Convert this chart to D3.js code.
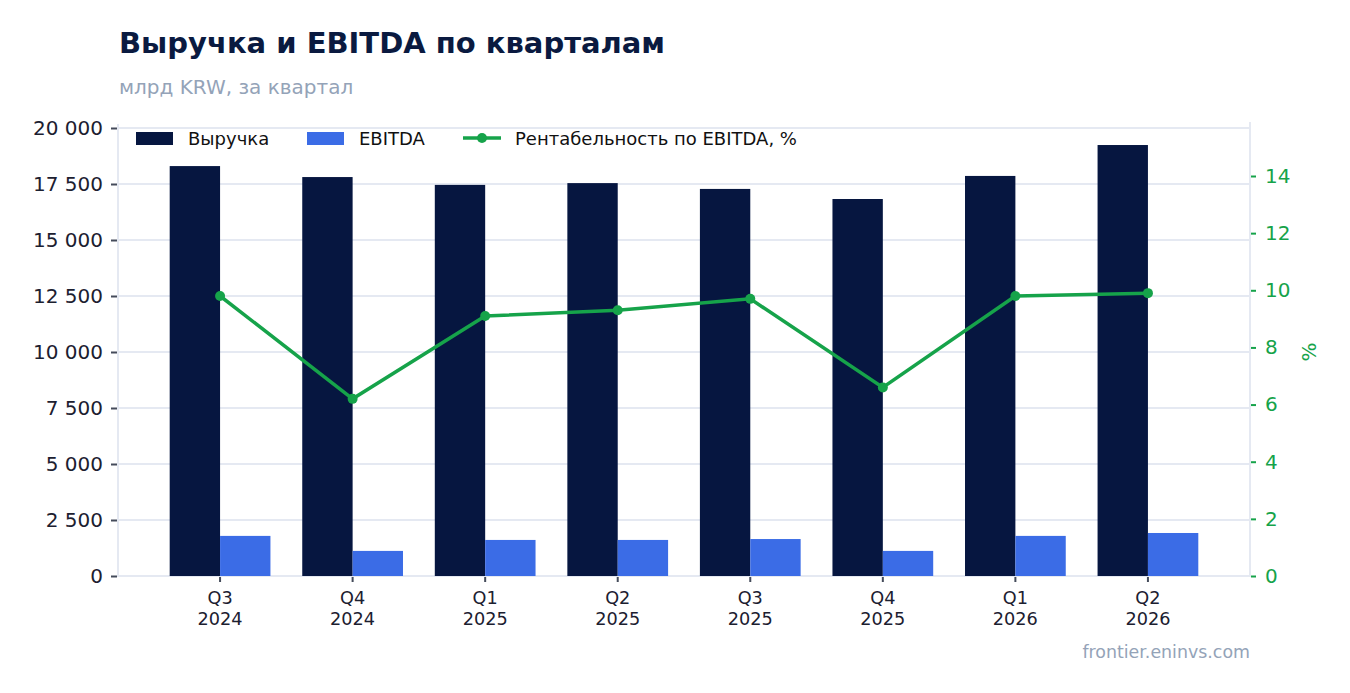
<!DOCTYPE html>
<html>
<head>
<meta charset="utf-8">
<script src="https://cdn.jsdelivr.net/npm/d3@7"></script>
<style>
  body { margin: 0; background: #fff; }
  svg { font-family: "DejaVu Sans", sans-serif; }
</style>
</head>
<body>
<svg id="chart" width="1350" height="693"></svg>
<script>
const quarters = ["Q3", "Q4", "Q1", "Q2", "Q3", "Q4", "Q1", "Q2"];
const years = ["2024", "2024", "2025", "2025", "2025", "2025", "2026", "2026"];
const revenue = [18300, 17810, 17460, 17540, 17280, 16830, 17860, 19240];
const ebitda = [1790, 1120, 1610, 1610, 1650, 1120, 1790, 1920];
const margin = [9.8, 6.2, 9.1, 9.3, 9.7, 6.6, 9.8, 9.9];
const leftTicks = [0, 2500, 5000, 7500, 10000, 12500, 15000, 17500, 20000];
const rightTicks = [0, 2, 4, 6, 8, 10, 12, 14];

const NAVY = "#061640", BLUE = "#3b6ce6", GREEN = "#16a34a", GRID = "#e5e9f2";

const svg = d3.select("#chart");
const plot = { left: 118, right: 1250, top: 128, bottom: 576 };

const locale = d3.formatLocale({ decimal: ",", thousands: "\u00a0", grouping: [3], currency: ["", ""] });
const fmt = locale.format(",d");

const cats = quarters.map((q, i) => i);
const x = d3.scaleBand()
    .domain(cats)
    .range([plot.left, plot.right])
    .paddingInner(0.24)
    .paddingOuter(0.39);

const sub = d3.scaleBand()
    .domain(["rev", "ebitda"])
    .range([0, x.bandwidth()]);

const y = d3.scaleLinear().domain([0, 20000]).range([plot.bottom, plot.top]);
const y2 = d3.scaleLinear().domain([0, 15.68]).range([plot.bottom, plot.top]);

// title
svg.append("text")
    .attr("x", 119).attr("y", 53)
    .attr("font-size", 29).attr("font-weight", "bold")
    .attr("fill", "#0a1a40")
    .text("Выручка и EBITDA по кварталам");

svg.append("text")
    .attr("x", 119).attr("y", 94)
    .attr("font-size", 20)
    .attr("fill", "#94a3b8")
    .text("млрд KRW, за квартал");

// grid
svg.append("g").selectAll("line")
    .data(leftTicks)
    .join("line")
    .attr("x1", plot.left).attr("x2", plot.right)
    .attr("y1", d => y(d)).attr("y2", d => y(d))
    .attr("stroke", GRID).attr("stroke-width", 2);

// axis lines
svg.append("line")
    .attr("x1", plot.left).attr("x2", plot.left)
    .attr("y1", plot.top - 4).attr("y2", plot.bottom + 1)
    .attr("stroke", GRID).attr("stroke-width", 2);
svg.append("line")
    .attr("x1", plot.right).attr("x2", plot.right)
    .attr("y1", plot.top - 6).attr("y2", plot.bottom + 1)
    .attr("stroke", GRID).attr("stroke-width", 2);

// left axis
const leftAxis = svg.append("g")
    .attr("transform", `translate(${plot.left - 1},0)`)
    .call(d3.axisLeft(y).tickValues(leftTicks).tickFormat(fmt).tickSize(6).tickPadding(8));
leftAxis.select(".domain").remove();
leftAxis.selectAll("line").attr("stroke", "#444b5a").attr("stroke-width", 2);
leftAxis.selectAll("text").attr("font-size", 20).attr("fill", "#1c2030").attr("font-family", "DejaVu Sans");

// right axis
const rightAxis = svg.append("g")
    .attr("transform", `translate(${plot.right + 1},0)`)
    .call(d3.axisRight(y2).tickValues(rightTicks).tickSize(5).tickPadding(9));
rightAxis.select(".domain").remove();
rightAxis.selectAll("line").attr("stroke", GREEN).attr("stroke-width", 2);
rightAxis.selectAll("text").attr("font-size", 20).attr("fill", GREEN).attr("font-family", "DejaVu Sans");

svg.append("text")
    .attr("transform", `translate(1316,${(plot.top + plot.bottom) / 2}) rotate(-90)`)
    .attr("text-anchor", "middle")
    .attr("font-size", 20).attr("fill", GREEN)
    .text("%");

// bars
svg.append("g").selectAll("rect")
    .data(revenue)
    .join("rect")
    .attr("x", (d, i) => x(i) + sub("rev"))
    .attr("y", d => y(d))
    .attr("width", sub.bandwidth())
    .attr("height", d => y(0) - y(d))
    .attr("fill", NAVY);

svg.append("g").selectAll("rect")
    .data(ebitda)
    .join("rect")
    .attr("x", (d, i) => x(i) + sub("ebitda"))
    .attr("y", d => y(d))
    .attr("width", sub.bandwidth())
    .attr("height", d => y(0) - y(d))
    .attr("fill", BLUE);

// x axis ticks and labels
const xg = svg.append("g");
cats.forEach(i => {
    const cx = x(i) + x.bandwidth() / 2;
    xg.append("line")
        .attr("x1", cx).attr("x2", cx)
        .attr("y1", plot.bottom + 1).attr("y2", plot.bottom + 6)
        .attr("stroke", "#444b5a").attr("stroke-width", 2);
    xg.append("text")
        .attr("x", cx).attr("y", 604)
        .attr("text-anchor", "middle")
        .attr("font-size", 17.7).attr("fill", "#1c2030")
        .text(quarters[i]);
    xg.append("text")
        .attr("x", cx).attr("y", 625)
        .attr("text-anchor", "middle")
        .attr("font-size", 17.7).attr("fill", "#1c2030")
        .text(years[i]);
});

// margin line
const line = d3.line()
    .x((d, i) => x(i) + x.bandwidth() / 2)
    .y(d => y2(d));

svg.append("path")
    .datum(margin)
    .attr("d", line)
    .attr("fill", "none")
    .attr("stroke", GREEN)
    .attr("stroke-width", 3.5);

svg.append("g").selectAll("circle")
    .data(margin)
    .join("circle")
    .attr("cx", (d, i) => x(i) + x.bandwidth() / 2)
    .attr("cy", d => y2(d))
    .attr("r", 5)
    .attr("fill", GREEN);

// legend
const lg = svg.append("g").attr("font-size", 18).attr("fill", "#111");
lg.append("rect").attr("x", 136).attr("y", 132).attr("width", 37).attr("height", 13).attr("fill", NAVY);
lg.append("text").attr("x", 188).attr("y", 145).text("Выручка");
lg.append("rect").attr("x", 307).attr("y", 132).attr("width", 37).attr("height", 13).attr("fill", BLUE);
lg.append("text").attr("x", 359).attr("y", 145).text("EBITDA");
lg.append("line").attr("x1", 463).attr("x2", 501).attr("y1", 138).attr("y2", 138)
    .attr("stroke", GREEN).attr("stroke-width", 3.5);
lg.append("circle").attr("cx", 482).attr("cy", 138).attr("r", 5).attr("fill", GREEN);
lg.append("text").attr("x", 515).attr("y", 145).text("Рентабельность по EBITDA, %");

// source
svg.append("text")
    .attr("x", 1250).attr("y", 658)
    .attr("text-anchor", "end")
    .attr("font-size", 17.4).attr("fill", "#94a3b8")
    .text("frontier.eninvs.com");
</script>
</body>
</html>
